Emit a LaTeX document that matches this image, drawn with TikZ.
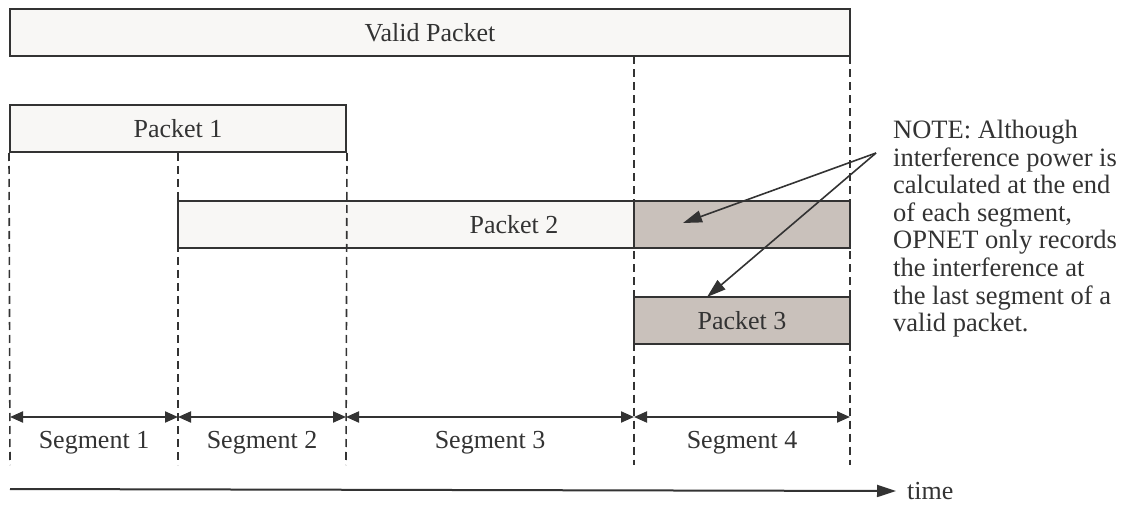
\documentclass[tikz,border=0pt]{standalone}
\usepackage{fontspec}
\setmainfont{Liberation Serif}
\usetikzlibrary{arrows.meta}
\definecolor{ink}{HTML}{333333}
\definecolor{lightfill}{HTML}{F8F7F5}
\definecolor{darkfill}{HTML}{C9C1BB}
\begin{document}
\begin{tikzpicture}[x=1pt,y=-1pt,
  pbox/.style={draw=ink, line width=2pt, inner sep=0pt, text=ink,
    minimum height=47pt, font=\fontsize{26}{28}\selectfont},
  lightbox/.style={pbox, fill=lightfill},
  darkbox/.style={pbox, fill=darkfill},
  vline/.style={draw=ink, line width=1.6pt, dash pattern=on 8pt off 5pt},
  segarrow/.style={draw=ink, line width=2pt,
    {Triangle[length=13pt,width=11pt]}-{Triangle[length=13pt,width=11pt]}},
  notearrow/.style={draw=ink, line width=1.6pt, -{Triangle[length=19pt,width=12pt]}},
  lbl/.style={text=ink, inner sep=0pt, font=\fontsize{26}{28}\selectfont},
]
\useasboundingbox (0,0) rectangle (1125,505);

% packets
\node[lightbox, minimum width=840pt] (valid) at (430,33) {Valid Packet};
\node[lightbox, minimum width=336pt] (p1) at (178,128.5) {Packet 1};
\node[lightbox, minimum width=672pt] (p2) at (514,224.5) {};
\node[darkbox, minimum width=216pt] (p2s) at (742,224.5) {};
\node[lbl] (p2t) at (p2) {Packet 2};
\node[darkbox, minimum width=216pt] (p3) at (742,320.5) {Packet 3};

% bottom ends of dashed lines and segment arrow ends
\foreach \i/\x in {0/10,1/178,2/346,3/634,4/850}{
  \coordinate (b\i) at (\x,465);
  \coordinate (a\i) at (\x,417);
}
\coordinate (v3) at (634,56.5);
\coordinate (v4) at (850,56.5);

% dashed time boundaries
\draw[vline] (p1.south west) -- (b0);
\draw[vline] (p1.south) -- (b1);
\draw[vline] (p1.south east) -- (b2);
\draw[vline] (v3) -- (b3);
\draw[vline] (v4) -- (b4);

% segment arrows
\draw[segarrow] (a0) -- (a1);
\draw[segarrow] (a1) -- (a2);
\draw[segarrow] (a2) -- (a3);
\draw[segarrow] (a3) -- (a4);

\node[lbl] (s1) at (94,443) {Segment 1};
\node[lbl] (s2) at (262,443) {Segment 2};
\node[lbl] (s3) at (490,443) {Segment 3};
\node[lbl] (s4) at (742,443) {Segment 4};

% time axis
\coordinate (t0) at (10,489);
\node[lbl, anchor=west] (time) at (907,491) {time};
\draw[draw=ink, line width=2pt, -{Triangle[length=19pt,width=12pt]}] (t0) -- (time.west -| 896,0);

% note
\node[text=ink, inner sep=0pt, anchor=north west, align=left,
  font=\fontsize{26.5}{27.6}\selectfont] (note) at (893,120)
  {NOTE: Although\\interference power is\\calculated at the end\\of each segment,\\OPNET only records\\the interference at\\the last segment of a\\valid packet.};
\coordinate (tail) at (876,153);
\coordinate (h1) at (683,223);
\coordinate (h2) at (707,297);
\draw[notearrow] (tail) -- (h1);
\draw[notearrow] (tail) -- (h2);
\end{tikzpicture}
\end{document}
